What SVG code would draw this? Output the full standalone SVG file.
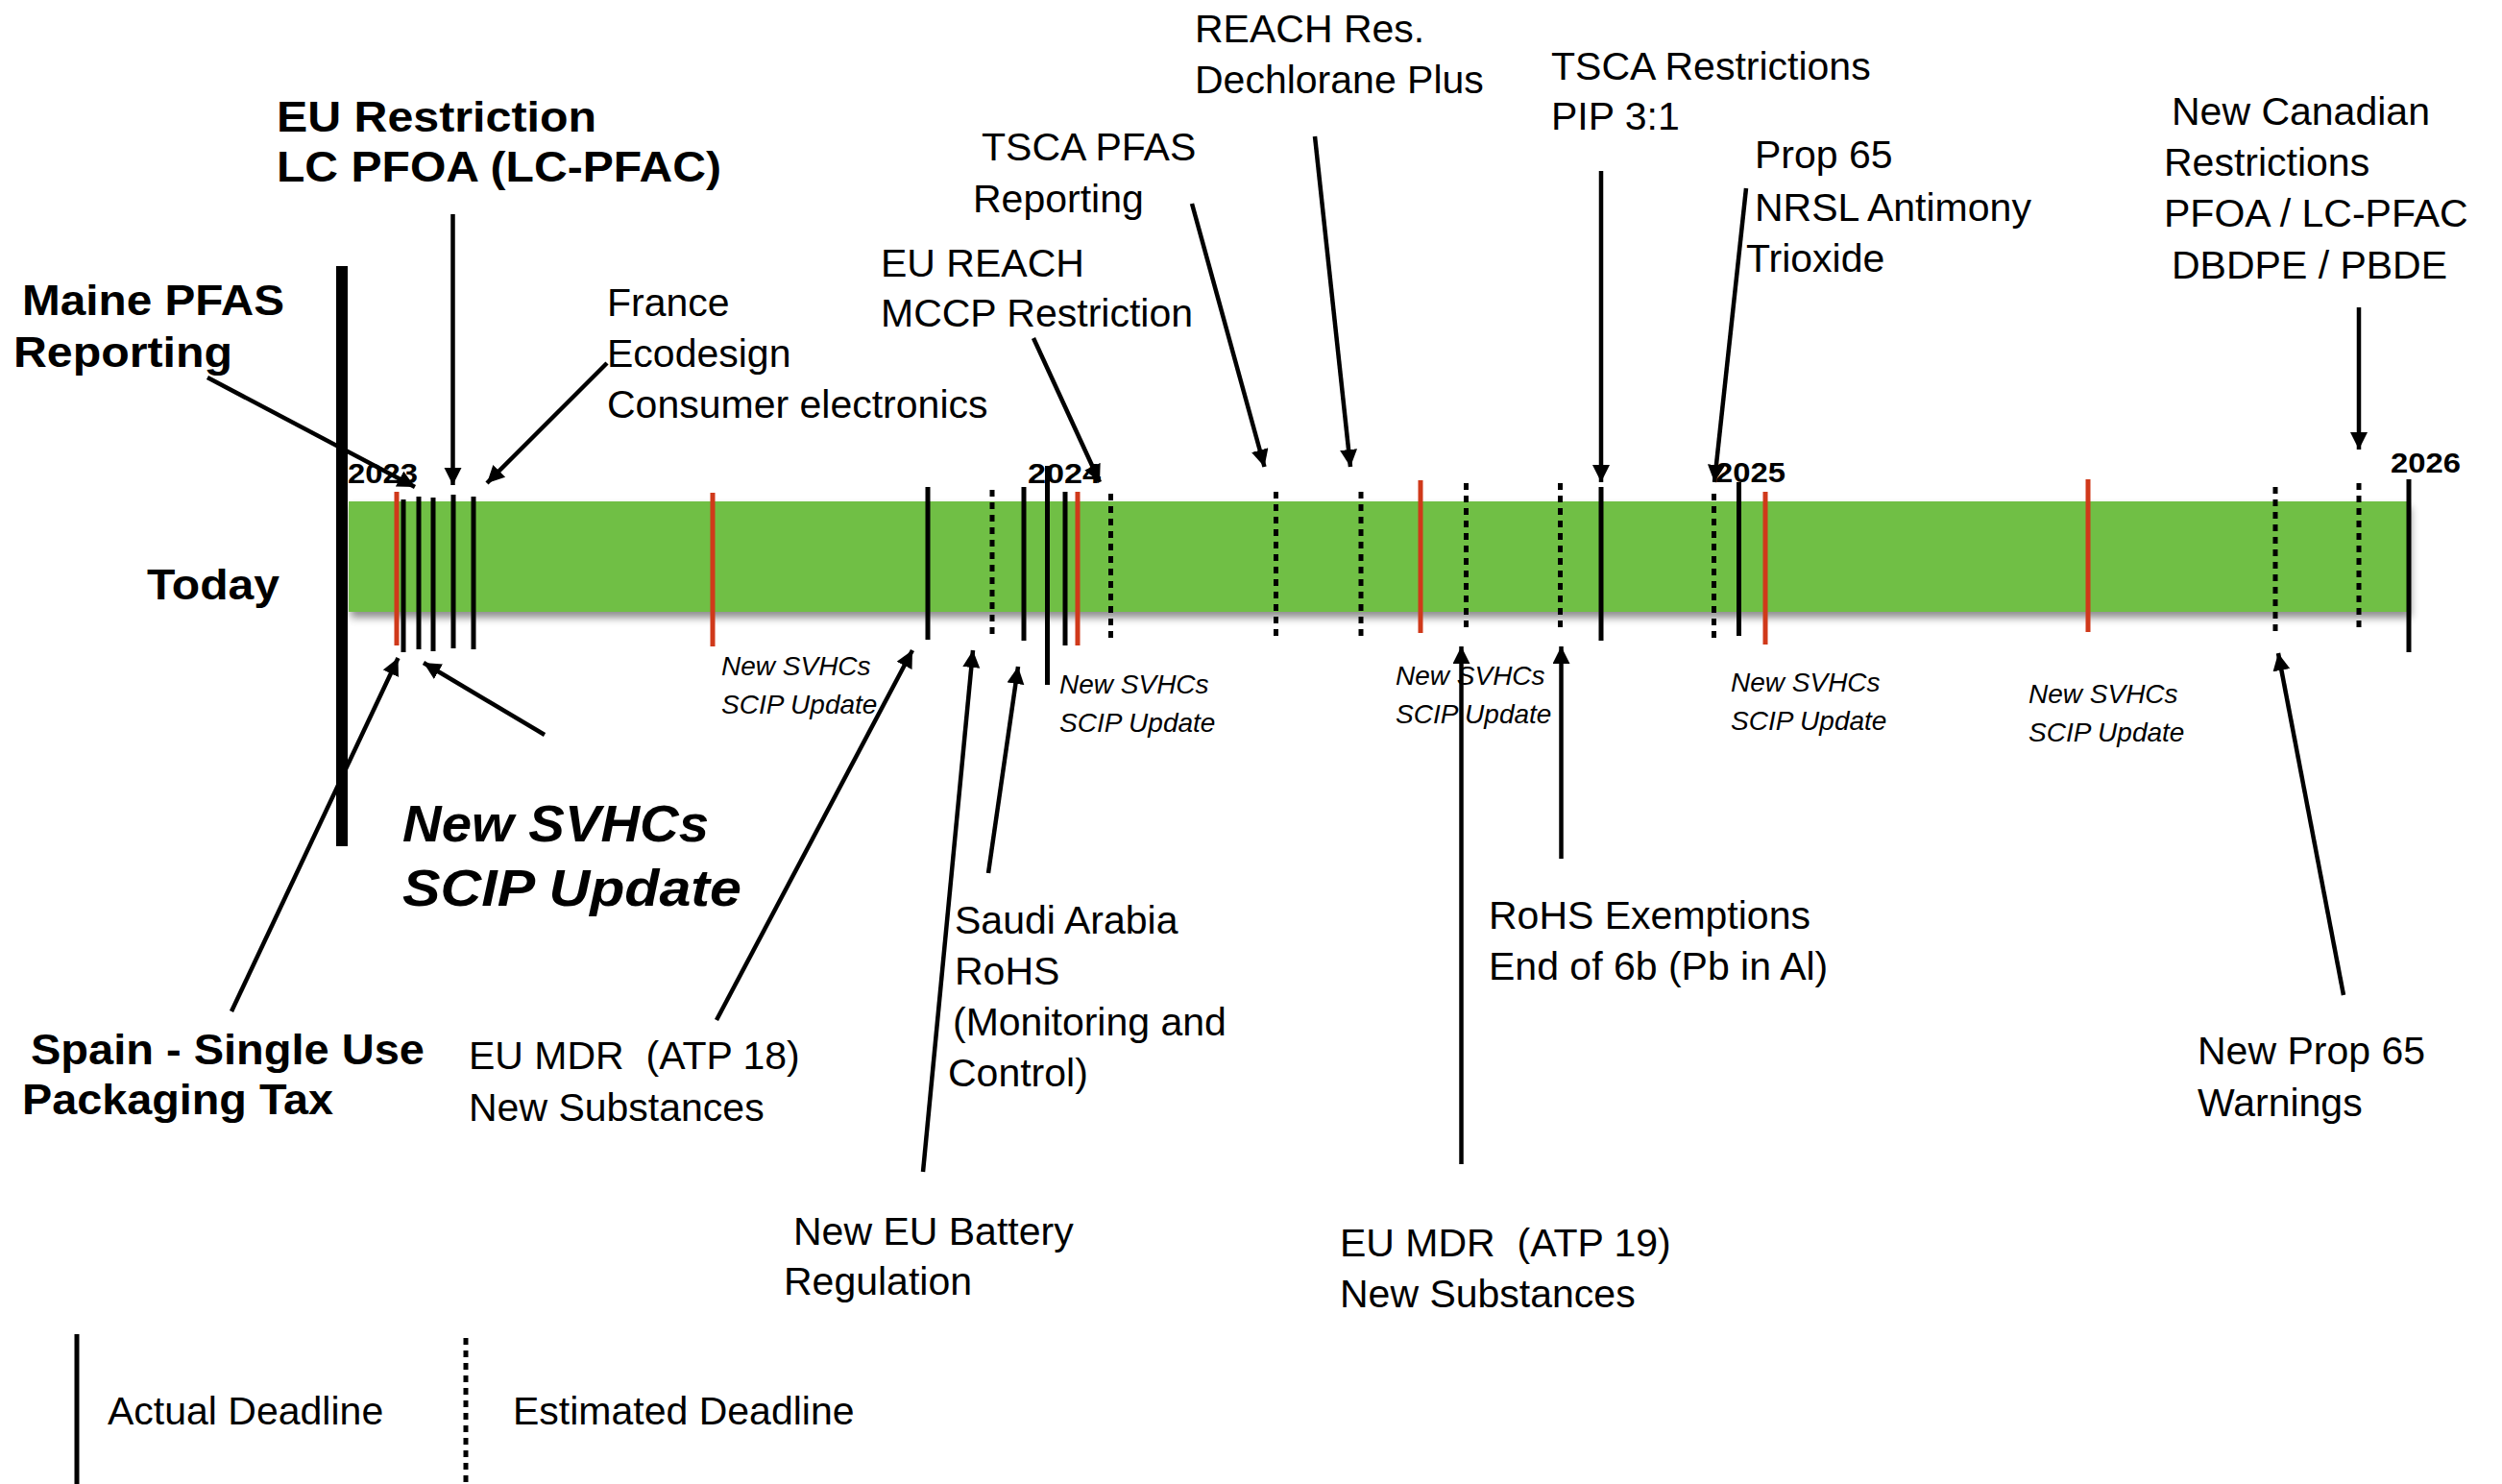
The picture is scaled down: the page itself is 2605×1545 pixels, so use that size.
<svg xmlns="http://www.w3.org/2000/svg" width="2605" height="1545" viewBox="0 0 2605 1545">
<defs>
<marker id="ah" markerUnits="userSpaceOnUse" markerWidth="20" markerHeight="20" refX="18" refY="9" orient="auto">
<path d="M0,0 L18,9 L0,18 z" fill="#000"/>
</marker>
<filter id="sh" x="-5%" y="-20%" width="110%" height="150%">
<feDropShadow dx="2" dy="6" stdDeviation="4" flood-color="#000" flood-opacity="0.45"/>
</filter>
<style>
text{font-family:"Liberation Sans",Arial,sans-serif;fill:#000}
.r{font-size:41px}
.b{font-size:44px;font-weight:bold}
.yr{font-size:30px;font-weight:bold}
.si{font-size:28px;font-style:italic}
.bi{font-size:54px;font-weight:bold;font-style:italic}
.con line{stroke:#000;stroke-width:4.5;marker-end:url(#ah)}
.act{stroke:#000;stroke-width:5}
.red{stroke:#D0391A;stroke-width:5}
.est{stroke:#000;stroke-width:5;stroke-dasharray:7 6}
</style>
</defs>
<rect width="2605" height="1545" fill="#fff"/>

<g id="timeline">
<rect x="363" y="522" width="2145" height="115" fill="#70BF44" filter="url(#sh)"/>
<line x1="356" y1="277" x2="356" y2="881" stroke="#000" stroke-width="12"/>
<g id="red-ticks">
<line class="red" x1="413" y1="512" x2="413" y2="672"/>
<line class="red" x1="742" y1="513" x2="742" y2="673"/>
<line class="red" x1="1122" y1="512" x2="1122" y2="672"/>
<line class="red" x1="1479" y1="500" x2="1479" y2="659"/>
<line class="red" x1="1838" y1="512" x2="1838" y2="671"/>
<line class="red" x1="2174" y1="499" x2="2174" y2="658"/>
</g>
<g id="actual-ticks">
<line class="act" x1="420" y1="520" x2="420" y2="679"/>
<line class="act" x1="436" y1="517" x2="436" y2="676"/>
<line class="act" x1="451" y1="518" x2="451" y2="678"/>
<line class="act" x1="472" y1="515" x2="472" y2="675"/>
<line class="act" x1="493" y1="517" x2="493" y2="676"/>
<line class="act" x1="966" y1="507" x2="966" y2="666"/>
<line class="act" x1="1066" y1="507" x2="1066" y2="667"/>
<line class="act" x1="1090.5" y1="485" x2="1090.5" y2="713"/>
<line class="act" x1="1109" y1="512" x2="1109" y2="672"/>
<line class="act" x1="1667" y1="507" x2="1667" y2="667"/>
<line class="act" x1="1810.5" y1="502" x2="1810.5" y2="662"/>
<line class="act" x1="2508" y1="499" x2="2508" y2="679"/>
</g>
<g id="estimated-ticks">
<line class="est" x1="1033" y1="510" x2="1033" y2="663"/>
<line class="est" x1="1156.5" y1="514" x2="1156.5" y2="669"/>
<line class="est" x1="1328.5" y1="512" x2="1328.5" y2="667"/>
<line class="est" x1="1417" y1="512" x2="1417" y2="667"/>
<line class="est" x1="1526.5" y1="503" x2="1526.5" y2="658"/>
<line class="est" x1="1624.5" y1="503" x2="1624.5" y2="658"/>
<line class="est" x1="1784.5" y1="514" x2="1784.5" y2="669"/>
<line class="est" x1="2369" y1="507" x2="2369" y2="661"/>
<line class="est" x1="2456" y1="503" x2="2456" y2="657"/>
</g>
<g id="years">
<text class="yr" x="362" y="503" textLength="73" lengthAdjust="spacingAndGlyphs">2023</text>
<text class="yr" x="1070" y="503" textLength="76" lengthAdjust="spacingAndGlyphs">2024</text>
<text class="yr" x="1786" y="502" textLength="73" lengthAdjust="spacingAndGlyphs">2025</text>
<text class="yr" x="2489" y="492" textLength="73" lengthAdjust="spacingAndGlyphs">2026</text>
</g>
<text id="today" class="b" x="153" y="624" textLength="138" lengthAdjust="spacingAndGlyphs">Today</text>
</g>

<g id="connectors" class="con">
<line x1="216" y1="393" x2="432" y2="507"/>
<line x1="471.5" y1="223" x2="471.5" y2="505"/>
<line x1="632" y1="378" x2="507" y2="503"/>
<line x1="1076" y1="352" x2="1145" y2="502"/>
<line x1="1241" y1="212" x2="1316.5" y2="486"/>
<line x1="1369" y1="142" x2="1406" y2="486"/>
<line x1="1667" y1="178" x2="1667" y2="502"/>
<line x1="1818" y1="196" x2="1785" y2="502"/>
<line x1="2456" y1="320" x2="2456" y2="468"/>
<line x1="241" y1="1053" x2="414.5" y2="685"/>
<line x1="567" y1="765" x2="441" y2="690"/>
<line x1="746" y1="1062" x2="950" y2="677"/>
<line x1="961" y1="1220" x2="1013" y2="677"/>
<line x1="1029" y1="909" x2="1060" y2="694"/>
<line x1="1521.5" y1="1212" x2="1521.5" y2="673"/>
<line x1="1625.5" y1="894" x2="1625.5" y2="673"/>
<line x1="2440" y1="1036" x2="2372" y2="680"/>
</g>

<g id="n-eu-restriction">
<text class="b" x="288" y="137" textLength="333" lengthAdjust="spacingAndGlyphs">EU Restriction</text>
<text class="b" x="288" y="189" textLength="463" lengthAdjust="spacingAndGlyphs">LC PFOA (LC-PFAC)</text>
</g>
<g id="n-maine">
<text class="b" x="23" y="328" textLength="273" lengthAdjust="spacingAndGlyphs">Maine PFAS</text>
<text class="b" x="14" y="382" textLength="228" lengthAdjust="spacingAndGlyphs">Reporting</text>
</g>
<g id="n-france">
<text class="r" x="632" y="329">France</text>
<text class="r" x="632" y="382">Ecodesign</text>
<text class="r" x="632" y="435">Consumer electronics</text>
</g>
<g id="n-mccp">
<text class="r" x="917" y="288">EU REACH</text>
<text class="r" x="917" y="340">MCCP Restriction</text>
</g>
<g id="n-tsca-pfas">
<text class="r" x="1022" y="167">TSCA PFAS</text>
<text class="r" x="1013" y="221">Reporting</text>
</g>
<g id="n-dechlorane">
<text class="r" x="1244" y="44">REACH Res.</text>
<text class="r" x="1244" y="97">Dechlorane Plus</text>
</g>
<g id="n-tsca-pip">
<text class="r" x="1615" y="83">TSCA Restrictions</text>
<text class="r" x="1615" y="135">PIP 3:1</text>
</g>
<g id="n-prop65-nrsl">
<text class="r" x="1827" y="175">Prop 65</text>
<text class="r" x="1827" y="230">NRSL Antimony</text>
<text class="r" x="1818" y="283">Trioxide</text>
</g>
<g id="n-canada">
<text class="r" x="2261" y="130">New Canadian</text>
<text class="r" x="2253" y="183">Restrictions</text>
<text class="r" x="2253" y="236">PFOA / LC-PFAC</text>
<text class="r" x="2261" y="290">DBDPE / PBDE</text>
</g>

<g id="n-svhc-big">
<text class="bi" x="419" y="876" textLength="319" lengthAdjust="spacingAndGlyphs">New SVHCs</text>
<text class="bi" x="419" y="943" textLength="353" lengthAdjust="spacingAndGlyphs">SCIP Update</text>
</g>
<g id="n-svhc-1"><text class="si" x="751" y="703">New SVHCs</text><text class="si" x="751" y="743">SCIP Update</text></g>
<g id="n-svhc-2"><text class="si" x="1103" y="722">New SVHCs</text><text class="si" x="1103" y="762">SCIP Update</text></g>
<g id="n-svhc-3"><text class="si" x="1453" y="713">New SVHCs</text><text class="si" x="1453" y="753">SCIP Update</text></g>
<g id="n-svhc-4"><text class="si" x="1802" y="720">New SVHCs</text><text class="si" x="1802" y="760">SCIP Update</text></g>
<g id="n-svhc-5"><text class="si" x="2112" y="732">New SVHCs</text><text class="si" x="2112" y="772">SCIP Update</text></g>

<g id="n-spain">
<text class="b" x="32" y="1108" textLength="410" lengthAdjust="spacingAndGlyphs">Spain - Single Use</text>
<text class="b" x="23" y="1160" textLength="324" lengthAdjust="spacingAndGlyphs">Packaging Tax</text>
</g>
<g id="n-mdr18">
<text class="r" x="488" y="1113" xml:space="preserve">EU MDR  (ATP 18)</text>
<text class="r" x="488" y="1167">New Substances</text>
</g>
<g id="n-saudi">
<text class="r" x="994" y="972">Saudi Arabia</text>
<text class="r" x="994" y="1025">RoHS</text>
<text class="r" x="992" y="1078">(Monitoring and</text>
<text class="r" x="987" y="1131">Control)</text>
</g>
<g id="n-rohs-ex">
<text class="r" x="1550" y="967">RoHS Exemptions</text>
<text class="r" x="1550" y="1020">End of 6b (Pb in Al)</text>
</g>
<g id="n-battery">
<text class="r" x="826" y="1296">New EU Battery</text>
<text class="r" x="816" y="1348">Regulation</text>
</g>
<g id="n-mdr19">
<text class="r" x="1395" y="1308" xml:space="preserve">EU MDR  (ATP 19)</text>
<text class="r" x="1395" y="1361">New Substances</text>
</g>
<g id="n-prop65-warn">
<text class="r" x="2288" y="1108">New Prop 65</text>
<text class="r" x="2288" y="1162">Warnings</text>
</g>

<g id="legend">
<line class="act" x1="80" y1="1389" x2="80" y2="1545"/>
<text class="r" x="112" y="1483">Actual Deadline</text>
<line class="est" x1="485" y1="1393" x2="485" y2="1545"/>
<text class="r" x="534" y="1483">Estimated Deadline</text>
</g>
</svg>
